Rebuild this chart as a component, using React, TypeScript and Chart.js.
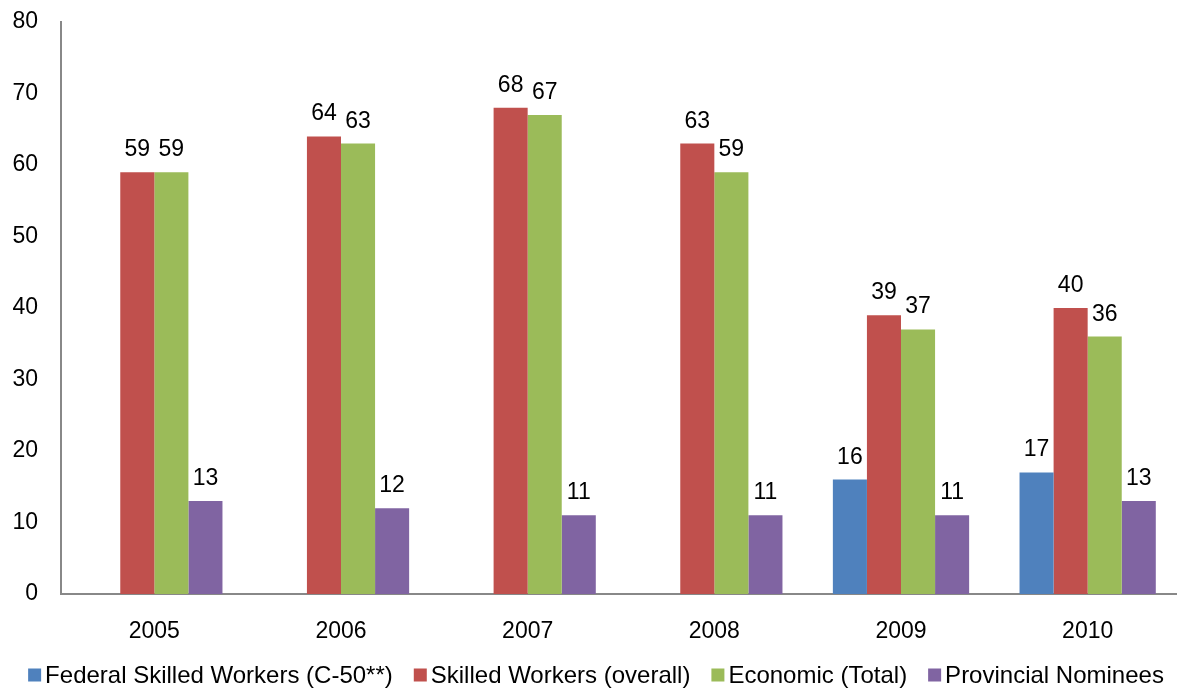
import React, { useEffect, useRef } from "react";
import { Chart, registerables } from "chart.js";

Chart.register(...registerables);

const years = ["2005", "2006", "2007", "2008", "2009", "2010"];
const federalSkilled = [null, null, null, null, 16, 17];
const skilledOverall = [59, 64, 68, 63, 39, 40];
const economicTotal = [59, 63, 67, 59, 37, 36];
const provincialNominees = [13, 12, 11, 11, 11, 13];
const yTicks = [0, 10, 20, 30, 40, 50, 60, 70, 80];

const FONT = "'Liberation Sans', Arial, sans-serif";
const CANVAS_W = 1192;
const CANVAS_H = 688;

const valueLabels = {
  id: "valueLabels",
  afterDatasetsDraw(chart: any) {
    const ctx = chart.ctx;
    ctx.save();
    ctx.font = `23px ${FONT}`;
    ctx.fillStyle = "#000";
    ctx.textAlign = "center";
    ctx.textBaseline = "alphabetic";
    chart.data.datasets.forEach((ds: any, i: number) => {
      const meta = chart.getDatasetMeta(i);
      meta.data.forEach((el: any, j: number) => {
        const v = ds.data[j];
        if (v === null || v === undefined) return;
        ctx.fillText(String(v), el.x, el.y - 16);
      });
    });
    ctx.restore();
  },
};

const bottomLegend = {
  id: "bottomLegend",
  afterDraw(chart: any) {
    const ctx = chart.ctx;
    const box = 13;
    const gapBoxText = 4;
    const gapItems = 21;
    ctx.save();
    ctx.font = `24px ${FONT}`;
    ctx.textBaseline = "middle";
    ctx.textAlign = "left";
    const items = chart.data.datasets.map((ds: any) => ({
      label: ds.label,
      color: ds.backgroundColor,
      w: ctx.measureText(ds.label).width,
    }));
    const total =
      items.reduce((s: number, it: any) => s + box + gapBoxText + it.w, 0) + gapItems * (items.length - 1);
    let x = chart.width / 2 - total / 2;
    const y = chart.height - 13;
    items.forEach((it: any) => {
      ctx.fillStyle = it.color;
      ctx.fillRect(x, y - box / 2, box, box);
      x += box + gapBoxText;
      ctx.fillStyle = "#000";
      ctx.fillText(it.label, x, y + 1);
      x += it.w + gapItems;
    });
    ctx.restore();
  },
};

export default function App() {
  const ref = useRef<HTMLCanvasElement>(null);
  useEffect(() => {
    if (!ref.current) return;
    const chart = new Chart(ref.current, {
      type: "bar",
      data: {
        labels: years,
        datasets: [
          { label: "Federal Skilled Workers (C-50**)", data: federalSkilled, backgroundColor: "#4F81BD" },
          { label: "Skilled Workers (overall)", data: skilledOverall, backgroundColor: "#C0504D" },
          { label: "Economic (Total)", data: economicTotal, backgroundColor: "#9BBB59" },
          { label: "Provincial Nominees", data: provincialNominees, backgroundColor: "#8064A2" },
        ],
      },
      options: {
        animation: false,
        responsive: false,
        maintainAspectRatio: false,
        datasets: { bar: { categoryPercentage: 0.73, barPercentage: 1 } },
        layout: { padding: { left: 0, right: 11, top: 0, bottom: 42 } },
        plugins: {
          tooltip: { enabled: false },
          legend: { display: false },
        },
        scales: {
          x: {
            grid: { display: false, drawTicks: false },
            border: { display: true, color: "#888", width: 2 },
            ticks: { font: { family: FONT, size: 23 }, color: "#000", padding: 24 },
            afterFit: (axis: any) => {
              axis.height = 52;
              axis.paddingLeft = 0;
              axis.paddingRight = 0;
            },
          },
          y: {
            min: 0,
            max: 80,
            afterBuildTicks: (axis: any) => {
              axis.ticks = yTicks.map((v) => ({ value: v }));
            },
            grid: { display: false, drawTicks: false },
            border: { display: true, color: "#888", width: 2 },
            ticks: { font: { family: FONT, size: 23 }, color: "#000", padding: 23 },
            afterFit: (axis: any) => {
              axis.width = 61;
              axis.paddingTop = 22;
              axis.paddingBottom = 0;
            },
          },
        },
      },
      plugins: [valueLabels, bottomLegend],
    });
    return () => chart.destroy();
  }, []);
  return (
    <div style={{ position: "fixed", left: 0, top: 0, width: CANVAS_W, height: CANVAS_H, background: "#fff" }}>
      <canvas ref={ref} width={CANVAS_W} height={CANVAS_H} style={{ width: CANVAS_W, height: CANVAS_H }} />
    </div>
  );
}
